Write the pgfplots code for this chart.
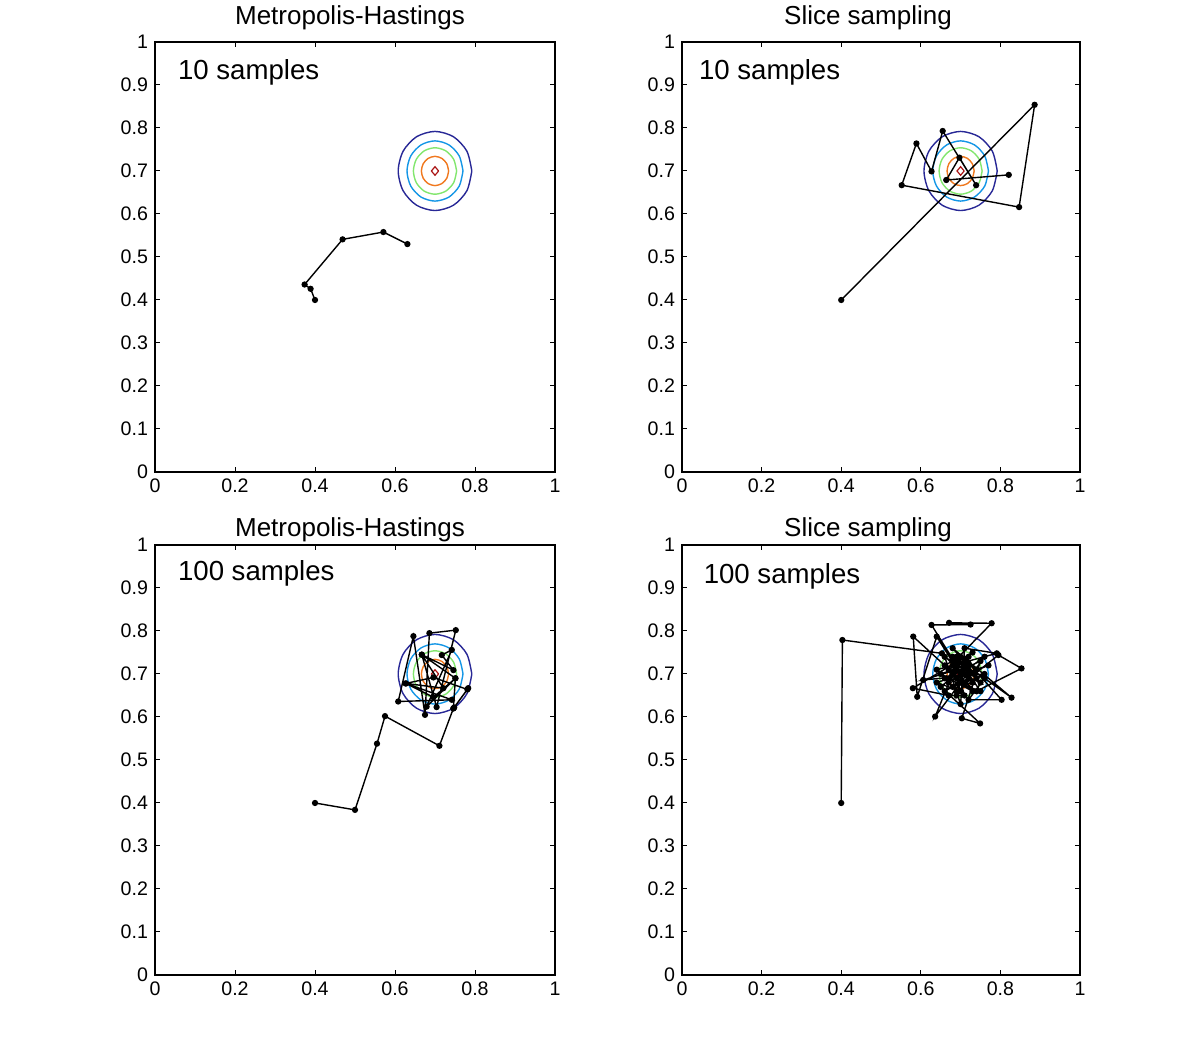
\documentclass[border=0pt]{standalone}
\usepackage{pgfplots}
\pgfplotsset{compat=1.18}
\usepackage{pgfplotstable}
\usepackage{fontspec}
\setmainfont{Liberation Sans}

\definecolor{lev1}{RGB}{40,40,150}
\definecolor{lev2}{RGB}{20,150,230}
\definecolor{lev3}{RGB}{130,230,110}
\definecolor{lev4}{RGB}{240,120,30}
\definecolor{lev5}{RGB}{170,20,20}

% contour levels of the target density, centred at (0.7,0.7)
\pgfplotstableread{
x1 y1 x2 y2 x3 y3 x4 y4
0.792 0.7 0.77 0.7 0.754 0.7 0.734 0.7
0.7797 0.746 0.7606 0.735 0.7468 0.727 0.7294 0.717
0.746 0.7797 0.735 0.7606 0.727 0.7468 0.717 0.7294
0.7 0.792 0.7 0.77 0.7 0.754 0.7 0.734
0.654 0.7797 0.665 0.7606 0.673 0.7468 0.683 0.7294
0.6203 0.746 0.6394 0.735 0.6532 0.727 0.6706 0.717
0.608 0.7 0.63 0.7 0.646 0.7 0.666 0.7
0.6203 0.654 0.6394 0.665 0.6532 0.673 0.6706 0.683
0.654 0.6203 0.665 0.6394 0.673 0.6532 0.683 0.6706
0.7 0.608 0.7 0.63 0.7 0.646 0.7 0.666
0.746 0.6203 0.735 0.6394 0.727 0.6532 0.717 0.6706
0.7797 0.654 0.7606 0.665 0.7468 0.673 0.7294 0.683
0.792 0.7 0.77 0.7 0.754 0.7 0.734 0.7
}\ctr

\newcommand{\contours}{%
  \addplot[lev1,line width=0.7pt,smooth] table[x=x1,y=y1]{\ctr};
  \addplot[lev2,line width=0.7pt,smooth] table[x=x2,y=y2]{\ctr};
  \addplot[lev3,line width=0.7pt,smooth] table[x=x3,y=y3]{\ctr};
  \addplot[lev4,line width=0.7pt,smooth] table[x=x4,y=y4]{\ctr};
  \addplot[lev5,line width=0.6pt] coordinates {(0.709,0.7) (0.7,0.71) (0.691,0.7) (0.7,0.69) (0.709,0.7)};
}

\pgfplotsset{
  panel/.style={
    scale only axis,height=215pt,
    xmin=0,xmax=1,ymin=0,ymax=1,
    xtick={0,0.2,0.4,0.6,0.8,1},
    ytick={0,0.1,0.2,0.3,0.4,0.5,0.6,0.7,0.8,0.9,1},
    tick align=inside,major tick length=2.5pt,
    axis line style={line width=0.6pt},
    every tick/.style={black,line width=0.5pt},
    tick label style={font=\fontsize{9.8}{11}\selectfont},
    /pgf/number format/assume math mode=true,
    title style={font=\fontsize{13}{15}\selectfont,anchor=base,at={(0.5,1)}},
  },
  samp/.style={black,line width=0.7pt,mark=*,mark size=1.2pt},
}
\tikzset{lab/.style={anchor=west,font=\fontsize{13.8}{16}\selectfont}}

\begin{document}
\begin{tikzpicture}
\path[use as bounding box] (0,0) rectangle (600pt,518.5pt);

\begin{axis}[panel,at={(77.5pt,282.5pt)},width=200pt,
  title={Metropolis-Hastings},title style={yshift=2.8pt,xshift=-2.5pt}]
  \contours
  \addplot[samp] coordinates {(0.400,0.400) (0.389,0.426) (0.374,0.436) (0.469,0.541) (0.571,0.558) (0.631,0.530)};
  \node[lab] at (axis cs:0.04,0.93) {10 samples};
\end{axis}

\begin{axis}[panel,at={(341pt,282.5pt)},width=199pt,
  title={Slice sampling},title style={yshift=2.8pt,xshift=-6.5pt}]
  \contours
  \addplot[samp] coordinates {(0.400,0.400) (0.886,0.854) (0.847,0.616) (0.552,0.667) (0.589,0.764) (0.627,0.699) (0.655,0.793) (0.739,0.667) (0.697,0.731) (0.664,0.679) (0.821,0.691)};
  \node[lab] at (axis cs:0.025,0.93) {10 samples};
\end{axis}

\begin{axis}[panel,at={(77.5pt,31pt)},width=200pt,
  title={Metropolis-Hastings},title style={yshift=-2pt,xshift=-2.5pt}]
  \contours
  \addplot[samp] coordinates {(0.400,0.400) (0.500,0.384) (0.555,0.538) (0.575,0.602) (0.711,0.533) (0.746,0.620) (0.783,0.667) (0.748,0.622) (0.781,0.664) (0.696,0.692) (0.627,0.678) (0.742,0.640) (0.608,0.636) (0.646,0.788) (0.675,0.605) (0.686,0.795) (0.752,0.802) (0.704,0.623) (0.667,0.745) (0.746,0.709) (0.717,0.744) (0.742,0.756) (0.679,0.624) (0.751,0.690) (0.696,0.646) (0.627,0.678) (0.721,0.667) (0.667,0.745) (0.751,0.690) (0.746,0.620)};
  \node[lab] at (axis cs:0.04,0.935) {100 samples};
\end{axis}

\begin{axis}[panel,at={(341pt,31pt)},width=199pt,
  title={Slice sampling},title style={yshift=-2pt,xshift=-6.5pt}]
  \contours
  \addplot[samp] coordinates {(0.400,0.400) (0.403,0.779) (0.653,0.748) (0.700,0.705) (0.627,0.814) (0.725,0.815) (0.671,0.819) (0.778,0.818) (0.690,0.735) (0.660,0.720) (0.581,0.787) (0.591,0.647) (0.640,0.787) (0.712,0.680) (0.740,0.660) (0.853,0.713) (0.795,0.744) (0.735,0.700) (0.680,0.760) (0.828,0.645) (0.760,0.690) (0.720,0.640) (0.803,0.640) (0.720,0.725) (0.650,0.670) (0.749,0.585) (0.703,0.597) (0.750,0.730) (0.680,0.700) (0.636,0.601) (0.700,0.680) (0.710,0.650) (0.670,0.650) (0.580,0.667) (0.730,0.750) (0.665,0.690) (0.690,0.710) (0.606,0.686) (0.760,0.700) (0.690,0.660) (0.640,0.710) (0.791,0.748) (0.710,0.760) (0.700,0.630) (0.660,0.740) (0.740,0.690) (0.680,0.670) (0.720,0.710) (0.690,0.740) (0.750,0.660) (0.660,0.690) (0.710,0.700) (0.730,0.680) (0.680,0.720) (0.700,0.660) (0.640,0.680) (0.770,0.720) (0.690,0.690) (0.720,0.740) (0.670,0.710) (0.730,0.660) (0.650,0.700) (0.710,0.720) (0.690,0.650) (0.760,0.740) (0.670,0.680) (0.700,0.740) (0.740,0.710) (0.660,0.660) (0.720,0.690) (0.680,0.740) (0.750,0.680) (0.700,0.700)};
  \node[lab] at (axis cs:0.037,0.926) {100 samples};
\end{axis}
\end{tikzpicture}
\end{document}
